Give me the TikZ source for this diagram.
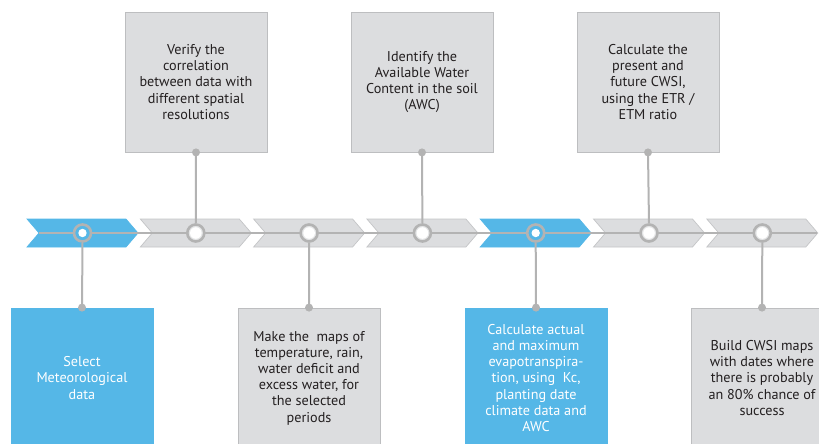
\documentclass[tikz,border=0pt]{standalone}
\usepackage{fontspec}
\setmainfont{PT Sans}
\definecolor{myblue}{HTML}{55B7E7}
\definecolor{boxgray}{HTML}{DCDDDF}
\definecolor{boxline}{HTML}{BDBEC0}
\definecolor{ringgray}{HTML}{B3B3B3}
\definecolor{chevline}{HTML}{C4C5C7}
\definecolor{bandgray}{HTML}{E4E5E6}
\definecolor{txt}{HTML}{231F20}
\tikzset{
  box/.style={draw=boxline, line width=0.8pt, fill=boxgray, minimum width=142pt,
    minimum height=140pt, inner sep=0pt, align=center, text=txt,
    font=\fontsize{14.2}{16.2}\selectfont},
  bluebox/.style={box, fill=myblue, draw=myblue, text=white},
  graychev/.style={fill=boxgray, draw=chevline, line width=0.7pt},
  bluechev/.style={fill=myblue, draw=myblue, line width=0.7pt},
  ring/.style={circle, minimum size=17pt, inner sep=0pt, draw=ringgray, line width=2.6pt},
  grayring/.style={ring, fill=bandgray},
  bluering/.style={ring, fill=myblue},
  conn/.style={draw=ringgray, line width=2pt},
  axisline/.style={draw=ringgray, line width=1.4pt}
}
\begin{document}
\begin{tikzpicture}[x=1pt,y=-1pt]
\useasboundingbox (0,0) rectangle (819,444);
\clip (0,0) rectangle (819,444);
% chevrons
\foreach \i/\st in {0/bluechev,1/graychev,2/graychev,3/graychev,4/bluechev,5/graychev,6/graychev}{
  \pgfmathsetmacro\xo{27+113.3*\i}
  \path[\st] (\xo,219) -- ++(99,0) -- ++(12,14) -- ++(-12,14) -- ++(-99,0) -- ++(12,-14) -- cycle;
}
\coordinate (lstart) at (39,233);
\coordinate (lend) at (817,233);
\draw[axisline] (lstart) -- (lend);
% boxes
\node[box] (b2) at (196,82) {Verify the\\correlation\\between data with\\different spatial\\resolutions};
\node[box] (b4) at (422,82) {Identify the\\Available Water\\Content in the soil\\(AWC)};
\node[box] (b6) at (648,82) {Calculate the\\present and\\future CWSI,\\using the ETR /\\ETM ratio};
\node[bluebox] (b1) at (82,378) {Select\\Meteorological\\data};
\node[box] (b3) at (309,378) {Make the\ \ maps of\\temperature, rain,\\water deficit and\\excess water, for\\the selected\\periods};
\node[bluebox] (b5) at (536,378) {Calculate actual\\and maximum\\evapotranspira-\\tion, using\ \ Kc,\\planting date\\climate data and\\AWC};
\node[box] (b7) at (762,378) {Build CWSI maps\\with dates where\\there is probably\\an 80\% chance of\\success};
% circles
\foreach \i/\st in {1/bluering,2/grayring,3/grayring,4/grayring,5/bluering,6/grayring,7/grayring}{
  \pgfmathsetmacro\xc{27+113.3*(\i-1)+55.5}
  \node[\st] (c\i) at (\xc,233) {};
}
% connectors
\foreach \i in {2,4,6}{
  \draw[conn] (b\i.south) -- (c\i.north);
  \fill[ringgray] (b\i.south) circle (4);
}
\foreach \i in {1,3,5,7}{
  \draw[conn] (b\i.north) -- (c\i.south);
  \fill[ringgray] (b\i.north) circle (4);
}
% inner dots
\foreach \i in {2,3,4,6,7}{ \fill[white] (c\i.center) circle (5.8); }
\foreach \i in {1,5}{ \fill[white] (c\i.center) circle (4.2); }
\end{tikzpicture}
\end{document}
